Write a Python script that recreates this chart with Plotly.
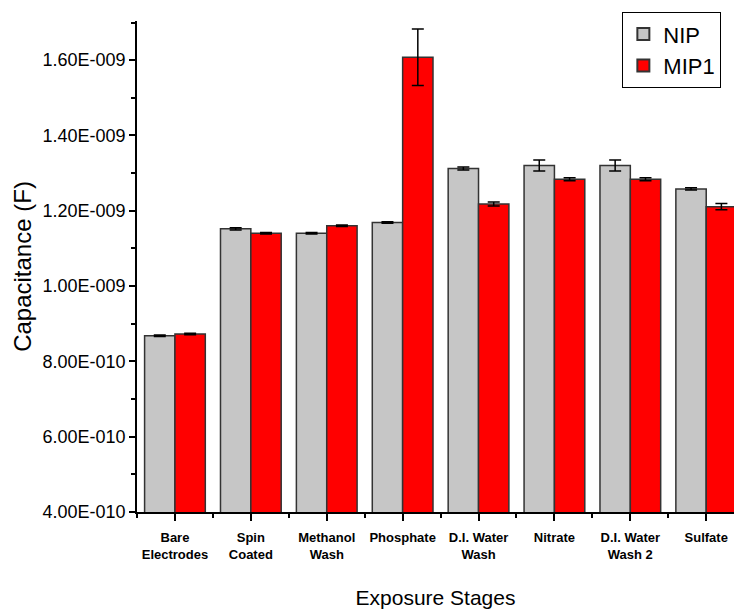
import plotly.graph_objects as go

categories = ["Bare<br>Electrodes", "Spin<br>Coated", "Methanol<br>Wash", "Phosphate",
              "D.I. Water<br>Wash", "Nitrate", "D.I. Water<br>Wash 2", "Sulfate"]
nip = [0.868e-9, 1.152e-9, 1.140e-9, 1.169e-9, 1.312e-9, 1.320e-9, 1.320e-9, 1.258e-9]
nip_err = [0.002e-9, 0.003e-9, 0.002e-9, 0.002e-9, 0.004e-9, 0.0146e-9, 0.0146e-9, 0.003e-9]
mip1 = [0.873e-9, 1.140e-9, 1.160e-9, 1.608e-9, 1.218e-9, 1.284e-9, 1.284e-9, 1.211e-9]
mip1_err = [0.002e-9, 0.002e-9, 0.002e-9, 0.075e-9, 0.005e-9, 0.004e-9, 0.004e-9, 0.008e-9]
ytick_vals = [4e-10, 6e-10, 8e-10, 1.0e-9, 1.2e-9, 1.4e-9, 1.6e-9]
ytick_text = ["4.00E-010", "6.00E-010", "8.00E-010", "1.00E-009", "1.20E-009", "1.40E-009", "1.60E-009"]

xs = list(range(len(categories)))

fig = go.Figure()
fig.add_trace(go.Bar(
    x=xs, y=nip, name="NIP",
    marker=dict(color="#C6C6C6", line=dict(color="#333333", width=1.5)),
    error_y=dict(type="data", array=nip_err, color="black", thickness=1.5, width=6),
))
fig.add_trace(go.Bar(
    x=xs, y=mip1, name="MIP1",
    marker=dict(color="#FF0000", line=dict(color="#333333", width=1.5)),
    error_y=dict(type="data", array=mip1_err, color="black", thickness=1.5, width=6),
))

fig.update_layout(
    width=734, height=610,
    margin=dict(l=137, r=0, t=21, b=98, autoexpand=False),
    paper_bgcolor="white", plot_bgcolor="white",
    barmode="group", bargap=0.2, bargroupgap=0,
    font=dict(family="Arial, Liberation Sans, sans-serif", color="black"),
    showlegend=True,
    legend=dict(
        x=0.813, y=1.018, xanchor="left", yanchor="top",
        bordercolor="black", borderwidth=1, bgcolor="white",
        font=dict(size=22, color="black"),
        itemsizing="constant", tracegroupgap=0,
    ),
)

fig.update_xaxes(
    range=[-0.5, 7.366],
    tickmode="array", tickvals=xs,
    ticktext=["<b>" + c + "</b>" for c in categories],
    tickfont=dict(size=13, color="black"),
    ticks="outside", ticklen=7, tickcolor="black", tickwidth=1.5,
    ticklabelstandoff=6,
    showline=True, linecolor="black", linewidth=1.5,
    showgrid=False, zeroline=False,
    minor=dict(tickvals=[x + 0.5 for x in xs[:-1]] + [-0.5], ticks="outside",
               ticklen=4, tickcolor="black", tickwidth=1.5),
    title=dict(text="Exposure Stages", font=dict(size=21, color="black"), standoff=29),
)

fig.update_yaxes(
    range=[4e-10, 1.704e-9],
    tickmode="array", tickvals=ytick_vals, ticktext=ytick_text,
    tickfont=dict(size=18, color="black"),
    ticks="outside", ticklen=6, tickcolor="black", tickwidth=1.5,
    showline=True, linecolor="black", linewidth=1.5,
    showgrid=False, zeroline=False,
    minor=dict(tickvals=[5e-10, 7e-10, 9e-10, 1.1e-9, 1.3e-9, 1.5e-9, 1.7e-9],
               ticks="outside", ticklen=4, tickcolor="black", tickwidth=1.5),
    title=dict(text="Capacitance (F)", font=dict(size=24, color="black"), standoff=4),
)

fig.write_html("out.html", config={"displayModeBar": False},
               post_script="document.body.style.margin='0px';")
